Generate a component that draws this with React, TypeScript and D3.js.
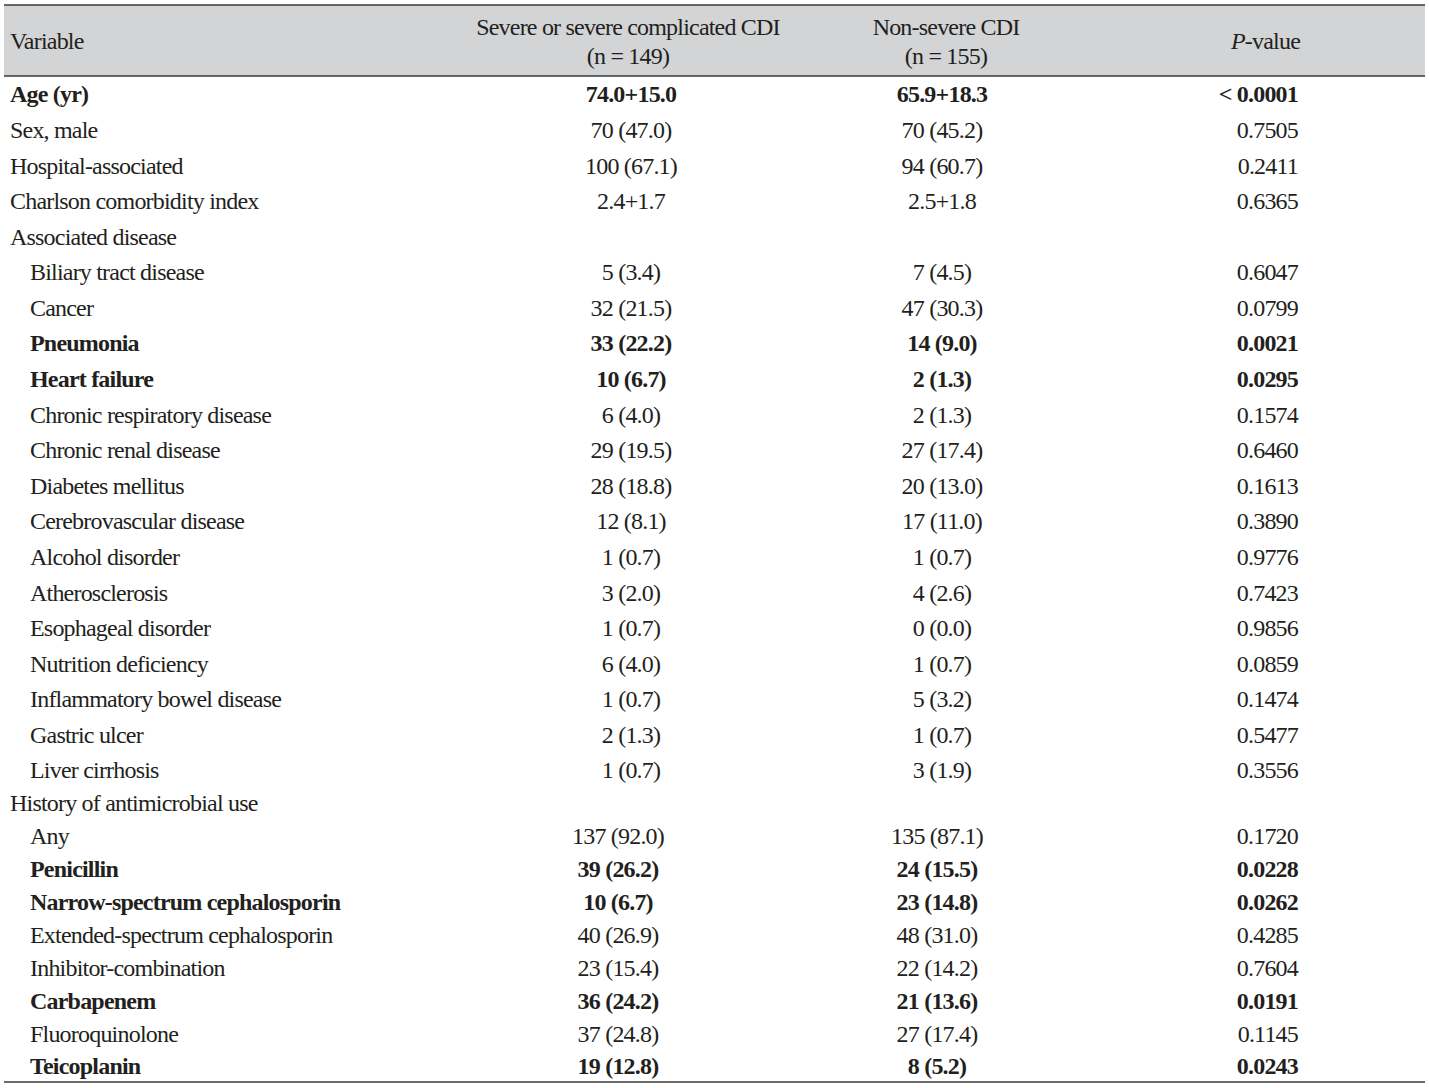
import React from "react";
import * as d3 from "d3";

const headerCols = ["Variable", "Severe or severe complicated CDI", "Non-severe CDI", "P-value"];
const headerN = ["", "(n = 149)", "(n = 155)", ""];

const variablesA = [
  "Age (yr)", "Sex, male", "Hospital-associated", "Charlson comorbidity index", "Associated disease",
  "Biliary tract disease", "Cancer", "Pneumonia", "Heart failure", "Chronic respiratory disease",
  "Chronic renal disease", "Diabetes mellitus", "Cerebrovascular disease", "Alcohol disorder",
  "Atherosclerosis", "Esophageal disorder", "Nutrition deficiency", "Inflammatory bowel disease",
  "Gastric ulcer", "Liver cirrhosis",
];
const severeA = [
  "74.0+15.0", "70 (47.0)", "100 (67.1)", "2.4+1.7", "", "5 (3.4)", "32 (21.5)", "33 (22.2)", "10 (6.7)",
  "6 (4.0)", "29 (19.5)", "28 (18.8)", "12 (8.1)", "1 (0.7)", "3 (2.0)", "1 (0.7)", "6 (4.0)", "1 (0.7)",
  "2 (1.3)", "1 (0.7)",
];
const nonSevereA = [
  "65.9+18.3", "70 (45.2)", "94 (60.7)", "2.5+1.8", "", "7 (4.5)", "47 (30.3)", "14 (9.0)", "2 (1.3)",
  "2 (1.3)", "27 (17.4)", "20 (13.0)", "17 (11.0)", "1 (0.7)", "4 (2.6)", "0 (0.0)", "1 (0.7)", "5 (3.2)",
  "1 (0.7)", "3 (1.9)",
];
const pA = [
  "< 0.0001", "0.7505", "0.2411", "0.6365", "", "0.6047", "0.0799", "0.0021", "0.0295", "0.1574",
  "0.6460", "0.1613", "0.3890", "0.9776", "0.7423", "0.9856", "0.0859", "0.1474", "0.5477", "0.3556",
];
const boldA = [0, 7, 8];
const indentA = [5, 6, 7, 8, 9, 10, 11, 12, 13, 14, 15, 16, 17, 18, 19];

const variablesB = [
  "History of antimicrobial use", "Any", "Penicillin", "Narrow-spectrum cephalosporin",
  "Extended-spectrum cephalosporin", "Inhibitor-combination", "Carbapenem", "Fluoroquinolone", "Teicoplanin",
];
const severeB = ["", "137 (92.0)", "39 (26.2)", "10 (6.7)", "40 (26.9)", "23 (15.4)", "36 (24.2)", "37 (24.8)", "19 (12.8)"];
const nonSevereB = ["", "135 (87.1)", "24 (15.5)", "23 (14.8)", "48 (31.0)", "22 (14.2)", "21 (13.6)", "27 (17.4)", "8 (5.2)"];
const pB = ["", "0.1720", "0.0228", "0.0262", "0.4285", "0.7604", "0.0191", "0.1145", "0.0243"];
const boldB = [2, 3, 6, 8];
const indentB = [1, 2, 3, 4, 5, 6, 7, 8];

const W = 1429;
const H = 1088;
const FONT = "'Liberation Serif', 'Times New Roman', serif";
const FS = 24;
const TXT = "#231f20";

type Row = { v: string; a: string; b: string; p: string; bold: boolean; indent: boolean; y: number; sec: number };

export default function App() {
  const yA = d3.scaleLinear().domain([0, variablesA.length - 1]).range([94, 770]);
  const yB = d3.scaleLinear().domain([0, variablesB.length - 1]).range([803, 1066]);

  const rows: Row[] = [
    ...variablesA.map((v, i) => ({
      v, a: severeA[i], b: nonSevereA[i], p: pA[i],
      bold: boldA.includes(i), indent: indentA.includes(i), y: yA(i), sec: 0,
    })),
    ...variablesB.map((v, i) => ({
      v, a: severeB[i], b: nonSevereB[i], p: pB[i],
      bold: boldB.includes(i), indent: indentB.includes(i), y: yB(i), sec: 1,
    })),
  ];

  const colX = { left: 10, indent: 30, a: [631, 618], b: [942, 937], p: 1298 };
  const ls = "-0.8px";

  return (
    <svg width={W} height={H} style={{ position: "absolute", left: 0, top: 0, display: "block" }}
      fontFamily={FONT} fontSize={FS} fill={TXT}>
      <rect x={0} y={0} width={W} height={H} fill="#ffffff" />
      <rect x={4} y={5} width={1421} height={71} fill="#d3d4d6" />
      <line x1={4} x2={1425} y1={5} y2={5} stroke="#3a3a3a" strokeWidth={1.6} />
      <line x1={4} x2={1425} y1={76} y2={76} stroke="#3a3a3a" strokeWidth={1.6} />
      <line x1={4} x2={1425} y1={1082} y2={1082} stroke="#3a3a3a" strokeWidth={1.6} />

      <text x={colX.left} y={41} dy="0.35em" letterSpacing={ls}>{headerCols[0]}</text>
      <text x={628} y={27} dy="0.35em" textAnchor="middle" letterSpacing={ls}>{headerCols[1]}</text>
      <text x={628} y={56} dy="0.35em" textAnchor="middle" letterSpacing={ls}>{headerN[1]}</text>
      <text x={946} y={27} dy="0.35em" textAnchor="middle" letterSpacing={ls}>{headerCols[2]}</text>
      <text x={946} y={56} dy="0.35em" textAnchor="middle" letterSpacing={ls}>{headerN[2]}</text>
      <text x={1300} y={41} dy="0.35em" textAnchor="end" letterSpacing={ls}>
        <tspan fontStyle="italic">P</tspan>-value
      </text>

      {rows.map((r, i) => (
        <g key={i} fontWeight={r.bold ? "bold" : "normal"} letterSpacing={ls}>
          <text x={r.indent ? colX.indent : colX.left} y={r.y} dy="0.35em">{r.v}</text>
          {r.a && <text x={colX.a[r.sec]} y={r.y} dy="0.35em" textAnchor="middle">{r.a}</text>}
          {r.b && <text x={colX.b[r.sec]} y={r.y} dy="0.35em" textAnchor="middle">{r.b}</text>}
          {r.p && <text x={colX.p} y={r.y} dy="0.35em" textAnchor="end">{r.p}</text>}
        </g>
      ))}
    </svg>
  );
}
